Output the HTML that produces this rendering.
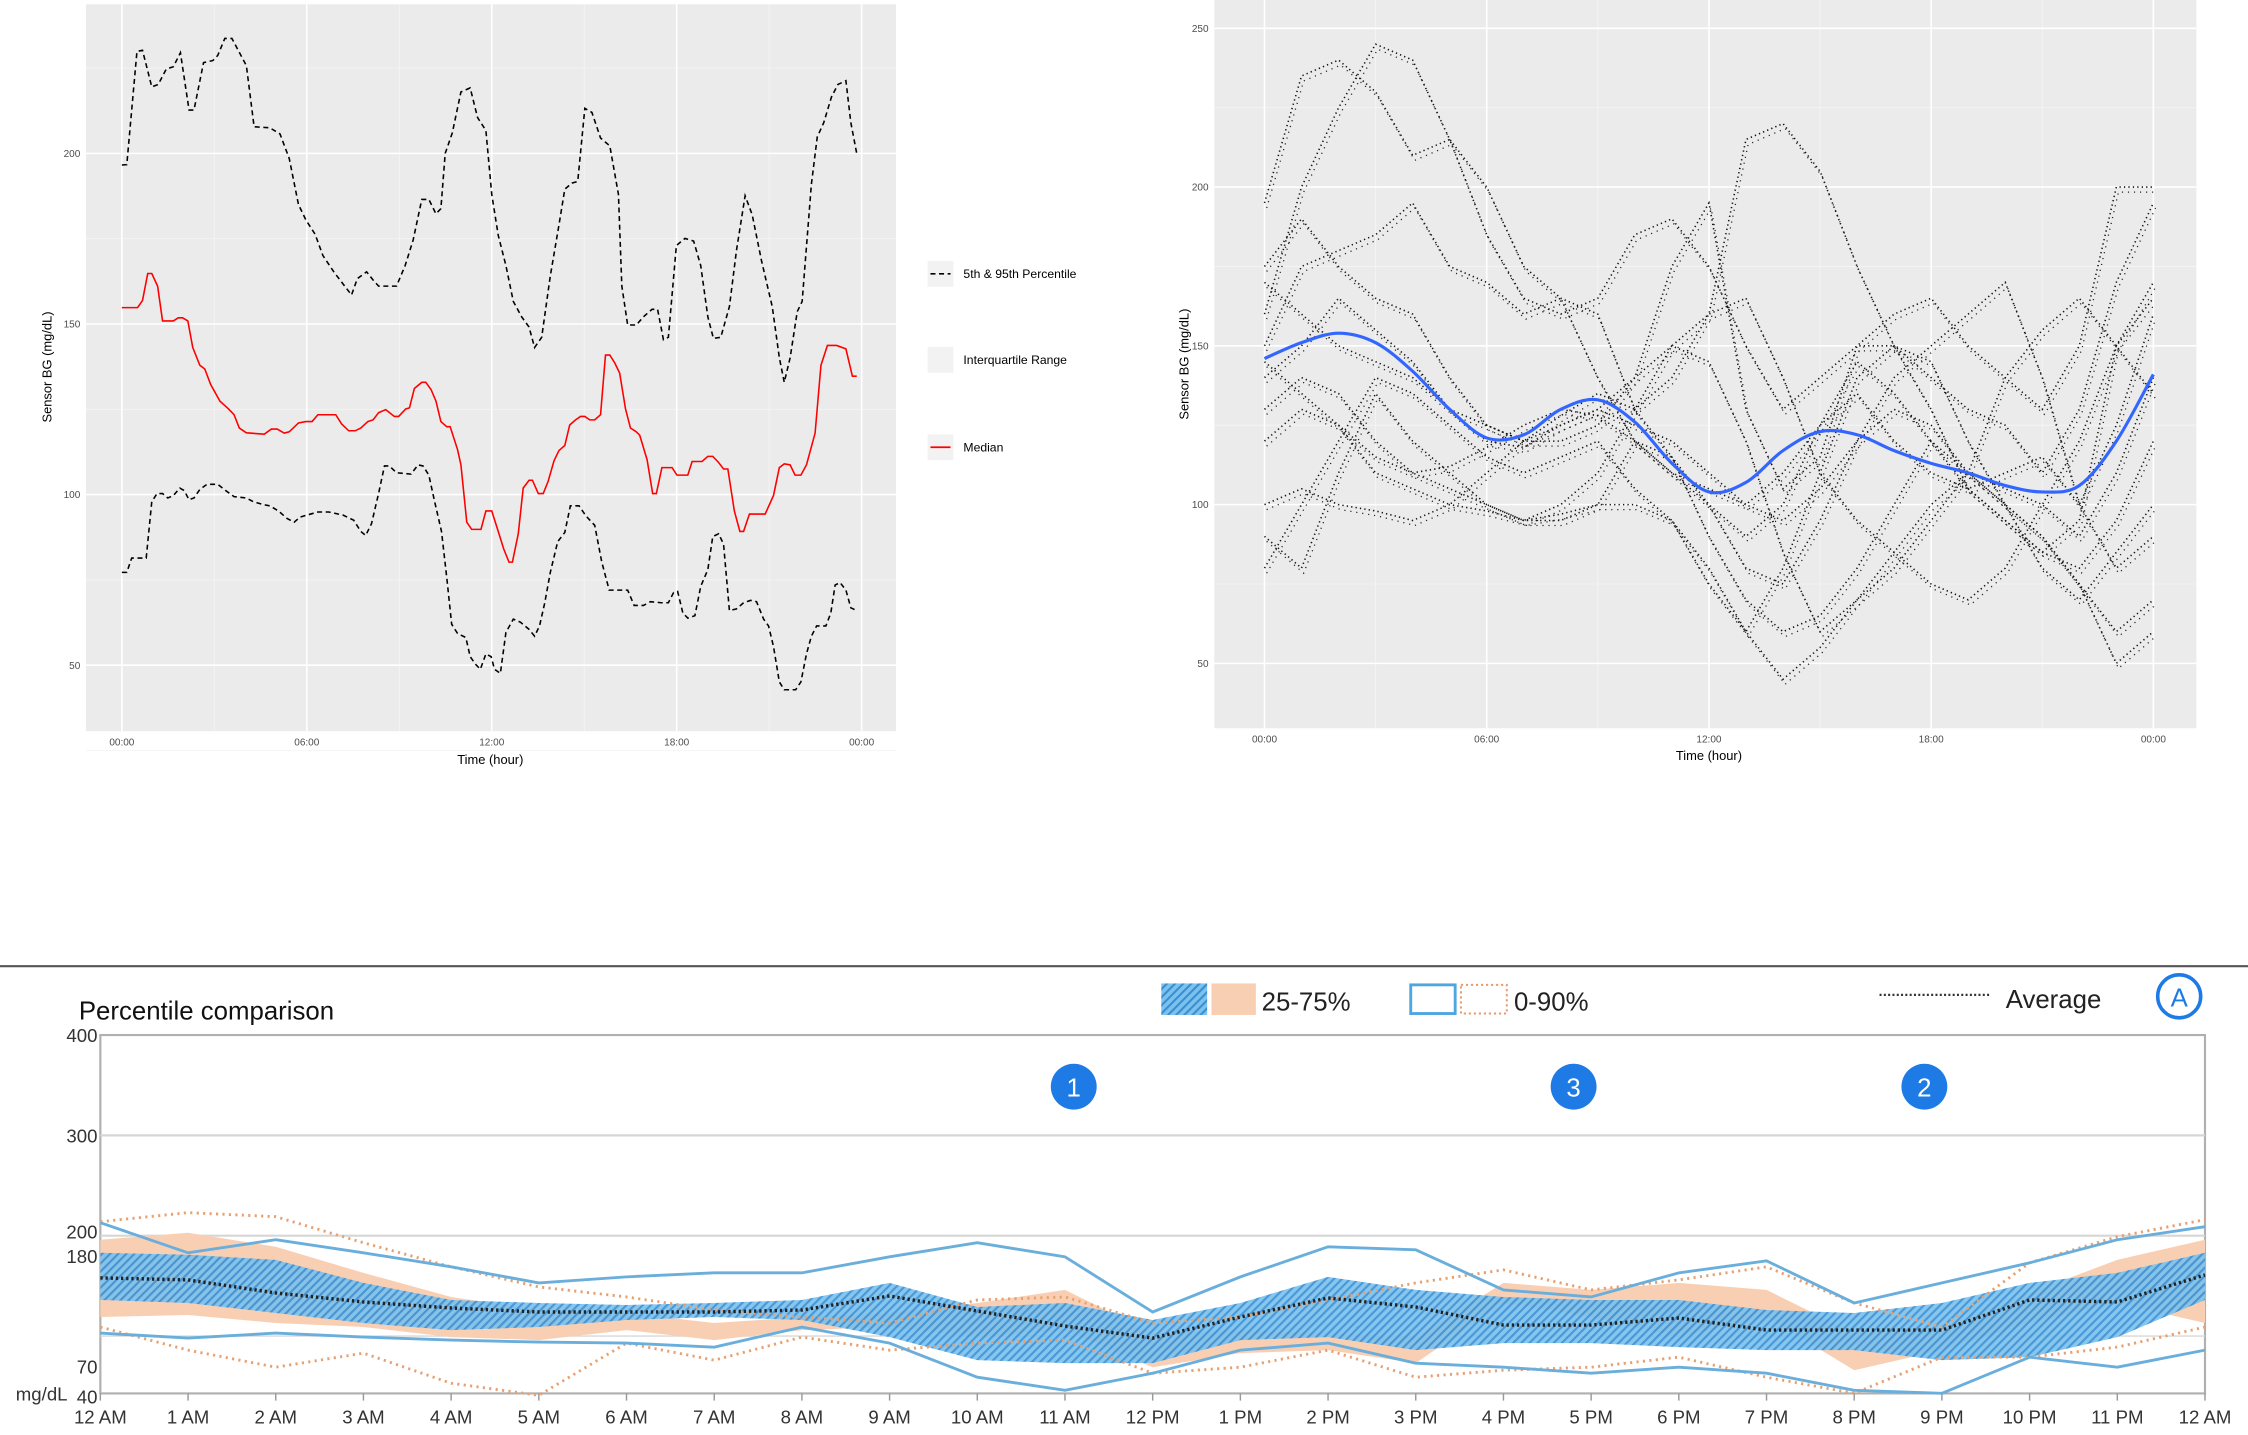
<!DOCTYPE html>
<html><head><meta charset="utf-8">
<style>
html,body{margin:0;padding:0;background:#fff;width:2248px;height:1435px;overflow:hidden}
svg{display:block;font-family:"Liberation Sans",sans-serif}
</style></head>
<body>
<svg id="root" width="2248" height="1435" viewBox="0 0 1568 1001" preserveAspectRatio="none" xmlns="http://www.w3.org/2000/svg">
<defs>
<pattern id="hatch" patternUnits="userSpaceOnUse" width="4" height="4" patternTransform="rotate(45)">
<rect width="4" height="4" fill="#7cc2ee"/>
<rect width="1.5" height="4" fill="#3a8fd3"/>
</pattern>
</defs>
<g id="c1"></g>
<g id="c2"></g>
<g id="c3"></g>
</svg>
<script>
// ---------- Chart 1 data ----------
const c1UpperH=[0,0.16,0.49,0.67,0.97,1.18,1.44,1.67,1.9,2.18,2.34,2.65,2.95,3.11,3.34,3.57,4.04,4.29,4.8,5.13,5.43,5.73,5.97,6.27,6.52,6.89,7.17,7.45,7.64,7.94,8.15,8.33,8.91,9.19,9.45,9.73,9.96,10.19,10.35,10.49,10.72,11.0,11.3,11.54,11.81,12.0,12.21,12.46,12.7,12.97,13.21,13.39,13.62,13.9,14.18,14.37,14.6,14.79,15.02,15.25,15.53,15.83,16.11,16.22,16.41,16.69,16.92,17.2,17.38,17.57,17.73,17.99,18.27,18.55,18.78,19.01,19.19,19.43,19.71,19.94,20.22,20.45,20.75,21.1,21.33,21.49,21.68,21.91,22.07,22.37,22.56,22.77,23.02,23.23,23.49,23.65,23.84];
const c1UpperV=[196.6,196.7,229.9,230.2,219.5,220.2,224.7,225.4,229.5,212.7,212.7,226.6,227.2,228.7,233.7,233.7,225.7,207.8,207.5,205.7,198.5,185,180.5,176.3,170.1,165.1,161.8,158.5,163.3,165.3,162.9,161.1,161.1,167.1,174.6,186.5,186.5,182.3,183.8,200,206,218,219.2,210.5,206.7,188,176,167.1,156.6,152.1,149.1,143.1,146.1,164.1,179,189.5,191.3,191.8,213.2,212,204.5,202.2,188,161.1,149.7,149.7,152.1,154.3,154.3,145.4,146.1,173,175.1,174.3,167.1,152.1,145.8,146.1,155.1,171.6,187.6,182,168.6,155.1,140.1,132.9,140.1,153.6,156.6,191,204.8,209,216.5,220.2,221.3,209,200];
const c1MedH=[0,0.51,0.67,0.84,0.97,1.16,1.32,1.67,1.83,1.97,2.14,2.3,2.53,2.69,2.88,3.18,3.46,3.64,3.81,4.04,4.62,4.85,5.04,5.27,5.43,5.73,5.97,6.17,6.36,6.94,7.13,7.36,7.57,7.75,7.98,8.15,8.33,8.56,8.84,8.98,9.21,9.33,9.49,9.73,9.86,10.03,10.19,10.35,10.54,10.65,10.89,11.0,11.19,11.35,11.65,11.81,12.0,12.21,12.39,12.56,12.67,12.86,13.02,13.21,13.32,13.51,13.67,13.83,14.02,14.18,14.37,14.53,14.72,14.88,15.02,15.18,15.34,15.53,15.69,15.83,15.99,16.15,16.34,16.5,16.69,16.8,17.04,17.22,17.34,17.52,17.85,18.01,18.36,18.5,18.82,19.01,19.17,19.36,19.52,19.66,19.87,20.05,20.17,20.36,20.87,21.14,21.33,21.49,21.68,21.84,22.03,22.21,22.49,22.68,22.89,23.19,23.49,23.7,23.84];
const c1MedV=[154.8,154.8,156.9,164.8,164.8,161.1,150.9,150.9,151.8,151.8,150.9,143.1,137.9,136.8,132.3,127.4,125.1,123.4,119.5,118.1,117.7,119.2,119.2,118,118.4,121,121.4,121.4,123.4,123.4,120.7,118.7,118.7,119.5,121.4,121.9,124,124.9,122.9,122.9,125.1,125.4,131.1,132.9,132.9,130.8,127.4,121.4,119.9,119.9,113.2,108.7,91.9,89.8,89.8,95.2,95.2,89.2,84,80.2,80.2,88.5,101.9,104.2,104.2,100.3,100.3,103.9,109.9,112.9,114.4,120.4,121.9,122.9,122.9,121.9,121.9,123.4,140.9,140.9,138.6,135.6,125.1,119.5,118.4,117.4,110.2,100.3,100.3,107.9,107.9,105.7,105.7,109.7,109.7,111.2,111.2,109.4,107.5,107.5,95.2,89.2,89.2,94.3,94.3,99.7,107.9,109,108.7,105.7,105.7,108.7,118,137.9,143.7,143.7,142.7,134.7,134.7];
const c1LowH=[0,0.16,0.32,0.79,0.97,1.14,1.32,1.49,1.67,1.88,2.02,2.18,2.34,2.53,2.76,3.11,3.41,3.64,4.04,4.27,4.62,4.8,5.08,5.36,5.59,5.78,6.01,6.36,6.71,7.17,7.52,7.75,7.91,8.1,8.33,8.52,8.68,8.91,9.38,9.61,9.77,9.96,10.14,10.37,10.54,10.7,10.89,11.16,11.3,11.47,11.63,11.81,11.98,12.09,12.28,12.46,12.7,12.93,13.21,13.39,13.55,13.72,13.9,14.14,14.37,14.55,14.83,15.06,15.34,15.57,15.81,16.11,16.41,16.62,16.92,17.15,17.5,17.73,17.9,18.03,18.2,18.36,18.59,18.78,19.01,19.17,19.36,19.52,19.71,19.94,20.17,20.4,20.59,20.82,20.98,21.14,21.33,21.49,21.86,22.03,22.21,22.37,22.54,22.84,23.0,23.14,23.3,23.49,23.65,23.84];
const c1LowV=[77.2,77.2,81.4,81.4,97.9,100.3,100.3,99,99.7,101.9,101.2,98.5,99,101.5,103,103,100.9,99.4,99,97.9,97,96.7,95.2,93,91.9,93.4,94,94.9,94.9,94,92.5,89.2,88,91.5,100.4,108.4,108.4,106.4,106,108.7,108.4,105.7,98.2,89.2,75.7,62,59.3,58.1,52.5,50.3,48.8,53.3,52.5,48.8,47.6,59.6,63.5,62.6,60.5,58.5,61.5,68.3,77.2,86.2,88.9,96.7,96.7,93.7,91,80.2,72,72,72,67.5,67.5,68.6,68.3,68.3,71.3,71.6,65.3,63.8,64.5,73.1,78,87.7,88.5,85.5,66,66.5,68.3,69,68.6,63.5,61.5,55.5,45.1,42.8,42.8,45.1,53.3,58.5,61.5,61.5,65.3,73.5,74.2,72,66.8,66];
const c1XTicks=["00:00","06:00","12:00","18:00","00:00"];
const c1YTicks=[50,100,150,200];

// ---------- Chart 2 data (hourly traces 0..24h) ----------
const c2Traces=[
[195,235,240,230,210,215,185,165,160,165,185,190,175,150,130,140,150,160,165,150,140,130,150,200,200],
[160,200,225,245,240,215,200,175,165,160,130,140,160,215,220,205,175,150,140,130,125,110,130,170,195],
[150,175,180,185,195,175,170,160,165,140,120,110,100,80,75,95,120,140,150,160,170,140,100,125,160],
[170,160,150,145,140,130,125,120,125,130,140,150,145,120,85,60,70,80,95,110,140,155,165,150,135],
[130,140,135,120,110,105,100,95,100,110,130,150,160,165,140,110,95,85,75,70,80,100,120,150,165],
[100,105,100,98,95,100,98,95,95,100,120,115,90,70,60,65,80,100,120,110,100,80,70,85,100],
[80,100,120,140,135,125,115,110,115,120,105,95,80,60,45,55,70,85,100,110,100,90,75,60,70],
[140,150,165,155,145,130,120,118,125,130,125,120,110,100,95,105,120,130,125,110,105,100,90,110,140],
[120,130,125,115,110,112,118,125,130,128,120,110,105,100,110,125,135,120,110,105,110,115,100,80,90],
[145,135,125,110,105,100,110,120,128,135,130,115,100,90,100,125,145,135,120,105,95,85,95,150,170],
[175,190,175,165,160,140,125,120,120,125,140,175,195,130,105,115,150,150,130,105,95,85,80,95,120],
[90,80,110,135,120,110,100,95,97,100,100,95,75,60,80,110,140,150,145,120,100,90,75,50,60]
];
const c2Smooth=[146,151,154,151,142,130,121,122,130,133,126,113,104,107,117,123,122,117,113,110,106,104,106,120,141];
const c2XTicks=["00:00","06:00","12:00","18:00","00:00"];
const c2YTicks=[50,100,150,200,250];

// ---------- Chart 3 data (hourly 0..24) ----------
const c3Avg=[158,156,143,134,128,124,124,124,126,140,125,110,98,119,138,129,111,111,118,106,106,106,136,134,161];
const c3BlueIqrHi=[183,181,176,153,136,133,131,133,136,153,129,133,116,133,159,146,139,136,136,126,123,133,153,163,183];
const c3BlueIqrLo=[136,133,123,113,106,109,116,119,116,99,76,73,73,96,99,86,93,93,89,86,86,76,79,99,136];
const c3OrIqrHi=[196,203,189,163,139,126,123,113,119,123,133,146,103,106,103,99,153,146,153,146,103,109,143,176,196];
const c3OrIqrLo=[119,121,113,109,99,96,106,96,106,109,99,106,69,83,86,73,133,119,99,119,66,86,113,133,113];
const c3BlueHi=[213,183,196,183,169,153,159,163,163,179,193,179,124,159,189,186,146,139,163,175,133,153,173,196,209];
const c3BlueLo=[103,98,103,99,96,94,93,89,109,93,59,46,63,86,93,73,69,63,69,63,46,43,79,69,86];
const c3OrHi=[214,223,219,193,169,149,139,126,119,113,136,139,113,119,136,153,166,146,156,169,133,109,173,199,216];
const c3OrLo=[109,86,69,83,53,41,93,76,99,86,93,96,63,69,86,59,66,69,79,59,43,79,79,89,109];
const c3XTicks=["12 AM","1 AM","2 AM","3 AM","4 AM","5 AM","6 AM","7 AM","8 AM","9 AM","10 AM","11 AM","12 PM","1 PM","2 PM","3 PM","4 PM","5 PM","6 PM","7 PM","8 PM","9 PM","10 PM","11 PM","12 AM"];
const c3YTicks=[40,70,180,200,300,400];
const c3Badges=[{h:11.1,label:"1"},{h:16.8,label:"3"},{h:20.8,label:"2"}];

const NS="http://www.w3.org/2000/svg";
function mk(parent,tag,attrs,text){const e=document.createElementNS(NS,tag);for(const k in attrs)e.setAttribute(k,attrs[k]);if(text!==undefined)e.textContent=text;parent.appendChild(e);return e;}
function pts(xs,ys){return xs.map((x,i)=>x.toFixed(2)+","+ys[i].toFixed(2)).join(" ");}

// ---------- Chart 1 ----------
(function(){
const g=document.getElementById('c1');
const X=h=>85+h*(516/24), Y=v=>345-(v-100)*2.38;
let e=mk(g,'rect',{x:60,y:3,width:565,height:507,fill:'#ebebeb'});

[25,75,125,175,225].forEach(v=>{mk(g,'line',{x1:60,x2:625,y1:Y(v),y2:Y(v),stroke:'#f5f5f5','stroke-width':0.6});});
[3,9,15,21].forEach(h=>{mk(g,'line',{x1:X(h),x2:X(h),y1:3,y2:510,stroke:'#f5f5f5','stroke-width':0.6});});
c1YTicks.forEach(v=>{mk(g,'line',{x1:60,x2:625,y1:Y(v),y2:Y(v),stroke:'#fff','stroke-width':1.1});
 const t=mk(g,'text',{x:56,y:Y(v)+2.5,'font-size':7,'text-anchor':'end',fill:'#4d4d4d'},String(v));
 });
c1XTicks.forEach((s,i)=>{const x=X(i*6);mk(g,'line',{x1:x,x2:x,y1:3,y2:510,stroke:'#fff','stroke-width':1.1});
 const t=mk(g,'text',{x:x,y:520,'font-size':7,'text-anchor':'middle',fill:'#4d4d4d'},s);
 });
e=mk(g,'polyline',{points:pts(c1UpperH.map(X),c1UpperV.map(Y)),fill:'none',stroke:'#000','stroke-width':1.1,'stroke-dasharray':'3.5,2.5'});

e=mk(g,'polyline',{points:pts(c1LowH.map(X),c1LowV.map(Y)),fill:'none',stroke:'#000','stroke-width':1.1,'stroke-dasharray':'3.5,2.5'});

e=mk(g,'polyline',{points:pts(c1MedH.map(X),c1MedV.map(Y)),fill:'none',stroke:'#f00','stroke-width':1.1});

e=mk(g,'text',{x:342,y:533,'font-size':9,'text-anchor':'middle',fill:'#000'},'Time (hour)');

e=mk(g,'text',{x:36,y:256,'font-size':9,'text-anchor':'middle',fill:'#000',transform:'rotate(-90 36 256)'},'Sensor BG (mg/dL)');

const leg=[{y:191,t:'5th & 95th Percentile',k:'dash'},{y:251,t:'Interquartile Range',k:'none'},{y:312,t:'Median',k:'red'}];
leg.forEach(l=>{const lg=mk(g,'g',{});
 mk(lg,'rect',{x:647,y:l.y-9,width:18,height:18,fill:'#f2f2f2'});
 if(l.k==='dash')mk(lg,'line',{x1:649,x2:663,y1:l.y,y2:l.y,stroke:'#000','stroke-width':1.1,'stroke-dasharray':'3.5,2.5'});
 if(l.k==='red')mk(lg,'line',{x1:649,x2:663,y1:l.y,y2:l.y,stroke:'#f00','stroke-width':1.2});
 mk(lg,'text',{x:672,y:l.y+3,'font-size':8.5,fill:'#000'},l.t);});
})();

// ---------- Chart 2 ----------
(function(){
const g=document.getElementById('c2');
const X=h=>882+h*(620/24), Y=v=>352-(v-100)*2.215;
let e=mk(g,'rect',{x:847,y:0,width:685,height:508,fill:'#ebebeb'});

[75,125,175,225].forEach(v=>{mk(g,'line',{x1:847,x2:1532,y1:Y(v),y2:Y(v),stroke:'#f5f5f5','stroke-width':0.6});});
[3,9,15,21].forEach(h=>{mk(g,'line',{x1:X(h),x2:X(h),y1:0,y2:508,stroke:'#f5f5f5','stroke-width':0.6});});
c2YTicks.forEach(v=>{mk(g,'line',{x1:847,x2:1532,y1:Y(v),y2:Y(v),stroke:'#fff','stroke-width':1.1});
 const t=mk(g,'text',{x:843,y:Y(v)+2.5,'font-size':7,'text-anchor':'end',fill:'#4d4d4d'},String(v));
 });
c2XTicks.forEach((s,i)=>{const x=X(i*6);mk(g,'line',{x1:x,x2:x,y1:0,y2:508,stroke:'#fff','stroke-width':1.1});
 const t=mk(g,'text',{x:x,y:518,'font-size':7,'text-anchor':'middle',fill:'#4d4d4d'},s);
 });
const hrs=c2Smooth.map((_,i)=>i);
c2Traces.forEach(tr=>{
 const p=mk(g,'polyline',{points:pts(hrs.map(X),tr.map(Y)),fill:'none',stroke:'#111','stroke-width':1.1,'stroke-dasharray':'0.9,2.2'});
 
 const q=mk(g,'polyline',{points:pts(hrs.map(X),tr.map(Y)),fill:'none',stroke:'#222','stroke-width':0.9,'stroke-dasharray':'0.8,3.4',transform:'translate(1.5,3.5)'});
 });
const P=hrs.map((h,i)=>[X(h),Y(c2Smooth[i])]);
let d='M'+P[0][0]+','+P[0][1];
for(let i=0;i<P.length-1;i++){const p0=P[Math.max(0,i-1)],p1=P[i],p2=P[i+1],p3=P[Math.min(P.length-1,i+2)];
 d+=' C'+(p1[0]+(p2[0]-p0[0])/6)+','+(p1[1]+(p2[1]-p0[1])/6)+' '+(p2[0]-(p3[0]-p1[0])/6)+','+(p2[1]-(p3[1]-p1[1])/6)+' '+p2[0]+','+p2[1];}
e=mk(g,'path',{d:d,fill:'none',stroke:'#3366ff','stroke-width':2.2});

e=mk(g,'text',{x:1192,y:530,'font-size':9,'text-anchor':'middle',fill:'#000'},'Time (hour)');

e=mk(g,'text',{x:829,y:254,'font-size':9,'text-anchor':'middle',fill:'#000',transform:'rotate(-90 829 254)'},'Sensor BG (mg/dL)');

})();

// ---------- Chart 3 ----------
(function(){
const g=document.getElementById('c3');
const X=h=>70+h*(1468/24), Y=v=>722+(400-v)*0.7;
let e=mk(g,'line',{x1:0,x2:1568,y1:674,y2:674,stroke:'#555','stroke-width':1.5});

e=mk(g,'text',{x:55,y:711,'font-size':18,fill:'#111'},'Percentile comparison');

let lg=mk(g,'g',{});
mk(lg,'rect',{x:810,y:686,width:32,height:22,fill:'url(#hatch)'});
mk(lg,'rect',{x:845,y:686,width:31,height:22,fill:'#f9cfb4'});
mk(lg,'text',{x:880,y:705,'font-size':18,fill:'#222'},'25-75%');
lg=mk(g,'g',{});
mk(lg,'rect',{x:984,y:687,width:31,height:20,fill:'none',stroke:'#4ea6e0','stroke-width':2});
mk(lg,'rect',{x:1019,y:687,width:32,height:20,fill:'none',stroke:'#e89a68','stroke-width':1.4,'stroke-dasharray':'1.5,2'});
mk(lg,'text',{x:1056,y:705,'font-size':18,fill:'#222'},'0-90%');
lg=mk(g,'g',{});
mk(lg,'line',{x1:1311,x2:1388,y1:694,y2:694,stroke:'#333','stroke-width':1.6,'stroke-dasharray':'1.4,1.6'});
mk(lg,'text',{x:1399,y:703,'font-size':18,fill:'#222'},'Average');
lg=mk(g,'g',{});
mk(lg,'circle',{cx:1520,cy:695,r:15,fill:'#fff',stroke:'#1e7be6','stroke-width':2.5});
mk(lg,'text',{x:1520,y:702,'font-size':18,'text-anchor':'middle',fill:'#1e7be6'},'A');
mk(g,'rect',{x:70,y:722,width:1468,height:250,fill:'#fff',stroke:'#b0b0b0','stroke-width':1.5});
[300,200].forEach(v=>mk(g,'line',{x1:70,x2:1538,y1:Y(v),y2:Y(v),stroke:'#d6d6d6','stroke-width':1.5}));
mk(g,'line',{x1:70,x2:1538,y1:Y(100),y2:Y(100),stroke:'#d8d8d8','stroke-width':1});
c3YTicks.forEach(v=>{const t=mk(g,'text',{x:68,y:Y(v)+(v===200?2:5),'font-size':13,'text-anchor':'end',fill:'#333'},String(v));
 });
e=mk(g,'text',{x:11,y:977,'font-size':13,fill:'#333'},'mg/dL');

const hrs=c3Avg.map((_,i)=>i);
function band(hi,lo,fill,name,op){const xs=hrs.map(X);const p=pts(xs,hi.map(Y))+" "+pts(xs.slice().reverse(),lo.slice().reverse().map(Y));
 const el=mk(g,'polygon',{points:p,fill:fill,opacity:op});}
band(c3OrIqrHi,c3OrIqrLo,'#f9cfb4','orange-iqr-band',1);
band(c3BlueIqrHi,c3BlueIqrLo,'url(#hatch)','blue-iqr-band',0.92);
function line(vals,stroke,w,dash,name){const a={points:pts(hrs.map(X),vals.map(Y)),fill:'none',stroke:stroke,'stroke-width':w};if(dash)a['stroke-dasharray']=dash;
 const el=mk(g,'polyline',a);}
line(c3OrHi,'#e8a070',2,'1.5,3','orange-90-upper');
line(c3OrLo,'#e8a070',2,'1.5,3','orange-90-lower');
line(c3BlueHi,'#6aaedc',2,null,'blue-90-upper');
line(c3BlueLo,'#6aaedc',2,null,'blue-90-lower');
line(c3Avg,'#222',2.4,'1.6,2','average-line');
c3XTicks.forEach((s,i)=>{const x=X(i);mk(g,'line',{x1:x,x2:x,y1:972,y2:977,stroke:'#999','stroke-width':1});
 const t=mk(g,'text',{x:x,y:993,'font-size':13,'text-anchor':'middle',fill:'#333'},s);
 });
c3Badges.forEach(b=>{const bg=mk(g,'g',{});
 mk(bg,'circle',{cx:X(b.h),cy:758,r:16,fill:'#1e7be6'});
 mk(bg,'text',{x:X(b.h),y:765,'font-size':18,'text-anchor':'middle',fill:'#fff'},b.label);});
})();
</script>
</body></html>
